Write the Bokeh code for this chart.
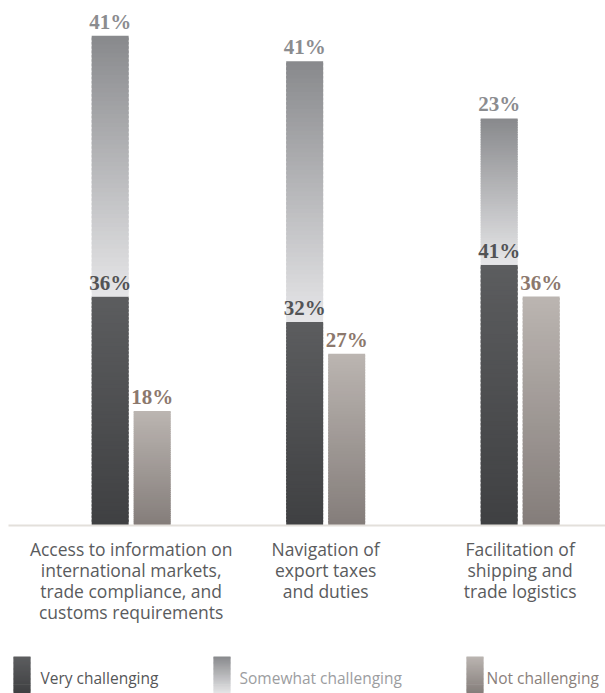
from bokeh.plotting import figure
from bokeh.models import ColumnDataSource, Range1d, FixedTicker
from bokeh.layouts import column
from bokeh.core.properties import value
from bokeh.embed import file_html
from bokeh.resources import INLINE

# ---- data ----
categories = [
    "Access to information on\ninternational markets,\ntrade compliance, and\ncustoms requirements",
    "Navigation of\nexport taxes\nand duties",
    "Facilitation of\nshipping and\ntrade logistics",
]
series_names = ["Very challenging", "Somewhat challenging", "Not challenging"]
very = [36, 32, 41]
somewhat = [41, 41, 23]
not_ch = [18, 27, 36]

# ---- style ----
GRAD = {
    "very": ("#5c5d5f", "#3f4042"),
    "some": ("#88898c", "#e6e6e8"),
    "not": ("#bbb5b1", "#847d7a"),
}
LABEL_COL = {"very": "#525355", "some": "#8b8c8f", "not": "#8c786d"}
LEG_TEXT_COL = ["#555658", "#9c9d9f", "#8a807b"]
OFF = 0.108
BW = 0.19
NSL = 60


def hex2rgb(h):
    h = h.lstrip("#")
    return tuple(int(h[i:i + 2], 16) for i in (0, 2, 4))


def lerp(c1, c2, t):
    a, b = hex2rgb(c1), hex2rgb(c2)
    return "#%02x%02x%02x" % tuple(round(a[i] + (b[i] - a[i]) * t) for i in range(3))


def grad_quads(left, right, bottom, top, ctop, cbot, n=NSL):
    """Split a bar into n stacked slices (drawn bottom to top, each overlapping
    the next one a little so no seams show) to imitate a vertical gradient."""
    L, R, B, T, C = [], [], [], [], []
    h = (top - bottom) / n
    for k in range(n):
        b = bottom + h * k
        t = bottom + h * (k + 1)
        if k < n - 1:
            t += h * 0.6
        frac = (k + 0.5) / n  # 0 bottom -> 1 top
        L.append(left); R.append(right); B.append(b); T.append(t)
        C.append(lerp(cbot, ctop, frac))
    return L, R, B, T, C


W = 605
p = figure(width=W, height=640, output_backend="svg", toolbar_location=None,
           x_range=Range1d(-0.6307, 2.4387), y_range=Range1d(0, 82.55),
           min_border_left=8, min_border_right=0, min_border_top=0,
           min_border_bottom=115)
p.outline_line_color = None
p.background_fill_color = "white"
p.border_fill_color = "white"
p.xgrid.visible = False
p.ygrid.visible = False
p.yaxis.visible = False

allL, allR, allB, allT, allC = [], [], [], [], []
for i in range(len(categories)):
    for (l, r, b, t, key) in [
        (i - OFF - BW / 2, i - OFF + BW / 2, 0, very[i], "very"),
        (i - OFF - BW / 2, i - OFF + BW / 2, very[i], very[i] + somewhat[i], "some"),
        (i + OFF - BW / 2, i + OFF + BW / 2, 0, not_ch[i], "not"),
    ]:
        L, R, B, T, C = grad_quads(l, r, b, t, *GRAD[key])
        allL += L; allR += R; allB += B; allT += T; allC += C

src = ColumnDataSource(dict(left=allL, right=allR, bottom=allB, top=allT, color=allC))
p.quad(left="left", right="right", bottom="bottom", top="top", source=src,
       fill_color="color", line_color=None)

xs = list(range(len(categories)))
lab_sets = [
    ([x - OFF for x in xs], [v + s for v, s in zip(very, somewhat)], [f"{s}%" for s in somewhat], "some"),
    ([x - OFF for x in xs], very, [f"{v}%" for v in very], "very"),
    ([x + OFF for x in xs], not_ch, [f"{n}%" for n in not_ch], "not"),
]
for lx, ly, lt, key in lab_sets:
    p.text(x=lx, y=ly, text=lt, text_font=value("Liberation Serif"),
           text_font_style="bold", text_font_size="21px",
           text_color=LABEL_COL[key], text_align="center",
           text_baseline="alphabetic", y_offset=-14)

p.xaxis.ticker = FixedTicker(ticks=xs)
p.xaxis.major_label_overrides = {i: c for i, c in enumerate(categories)}
p.xaxis.major_tick_line_color = None
p.xaxis.minor_tick_line_color = None
p.xaxis.axis_line_color = "#e3e0db"
p.xaxis.axis_line_width = 2
p.xaxis.major_label_standoff = 5
p.xaxis.major_label_text_font = "Open Sans"
p.xaxis.major_label_text_font_size = "17.5px"
p.xaxis.major_label_text_color = "#5a5b5d"
p.xaxis.major_label_text_line_height = 0.88
p.xaxis.major_label_text_align = "center"

# ---- legend figure ----
leg = figure(width=W, height=53, output_backend="svg", toolbar_location=None,
             x_range=Range1d(8, W), y_range=Range1d(0, 53),
             min_border=0, min_border_left=8)
leg.outline_line_color = None
leg.axis.visible = False
leg.grid.visible = False
leg.border_fill_color = "white"

sw_x = [13, 213, 466]
txt_x = [40, 239, 486]
keys = ["very", "some", "not"]
lL, lR, lB, lT, lC = [], [], [], [], []
for sx, key in zip(sw_x, keys):
    L, R, B, T, C = grad_quads(sx, sx + 17, 0, 37, *GRAD[key], n=30)
    lL += L; lR += R; lB += B; lT += T; lC += C
lsrc = ColumnDataSource(dict(left=lL, right=lR, bottom=lB, top=lT, color=lC))
leg.quad(left="left", right="right", bottom="bottom", top="top", source=lsrc,
         fill_color="color", line_color=None)
for tx, name, col in zip(txt_x, series_names, LEG_TEXT_COL):
    leg.text(x=[tx], y=[16], text=[name], text_font=value("Open Sans"),
             text_font_size="15.5px", text_color=col, text_baseline="middle",
             text_align="left")

layout = column(p, leg, spacing=0)
open("out.html", "w").write(file_html(layout, INLINE))
